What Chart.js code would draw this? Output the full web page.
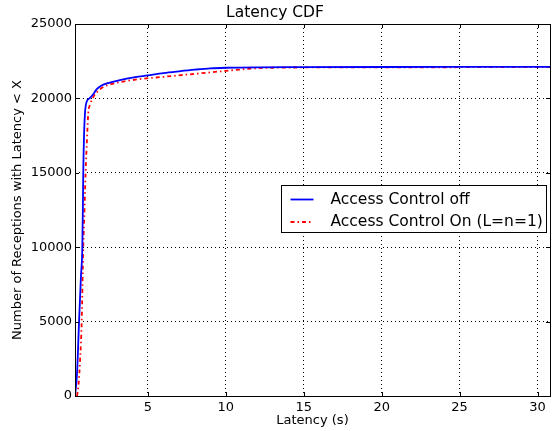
<!DOCTYPE html>
<html>
<head>
<meta charset="utf-8">
<script src="https://cdn.jsdelivr.net/npm/chart.js@4/dist/chart.umd.min.js"></script>
<style>
  body { margin: 0; background: #fff; }
</style>
</head>
<body>
<canvas id="cdfChart" width="558" height="431"></canvas>
<script>
// latency (s) / cumulative receptions
const offLatency = [0.32, 0.45, 0.58, 0.7, 0.79, 0.83, 0.85, 0.9, 0.96, 1.07, 1.25, 1.5, 1.7, 2.0, 2.5, 3.2, 4.0, 5.0, 6.0, 7.0, 8.0, 9.0, 10, 12, 15, 20, 25, 30.8];
const offCount   = [0, 1500, 5000, 8000, 10000, 13000, 15000, 17500, 19000, 19780, 20000, 20300, 20600, 20850, 21050, 21230, 21400, 21550, 21700, 21820, 21930, 22020, 22060, 22090, 22100, 22110, 22115, 22120];

const onLatency = [0.45, 0.55, 0.65, 0.75, 0.85, 0.93, 1.0, 1.1, 1.17, 1.3, 1.5, 1.8, 2.2, 2.8, 3.5, 4.5, 6, 8, 10, 11, 12, 13, 15, 20, 30.8];
const onCount   = [0, 800, 2500, 5000, 10000, 12500, 15000, 17500, 19000, 19600, 20100, 20500, 20800, 21000, 21150, 21300, 21450, 21650, 21850, 21950, 22030, 22060, 22080, 22090, 22100];

const xTicks = [5, 10, 15, 20, 25, 30];
const yTicks = [0, 5000, 10000, 15000, 20000, 25000];

const FONT = 'DejaVu Sans';

function toPoints(xs, ys) {
  return xs.map((x, i) => ({ x: x, y: ys[i] }));
}

// frame, inward ticks and the legend box, matplotlib style
const framePlugin = {
  id: 'frame',
  afterDraw(chart) {
    const { ctx, chartArea: a, scales } = chart;
    ctx.save();
    ctx.strokeStyle = '#000';
    ctx.lineWidth = 1;
    ctx.setLineDash([]);
    ctx.beginPath();
    xTicks.forEach(v => {
      const px = Math.round(scales.x.getPixelForValue(v)) + 0.5;
      ctx.moveTo(px, a.bottom); ctx.lineTo(px, a.bottom - 4);
      ctx.moveTo(px, a.top); ctx.lineTo(px, a.top + 4);
    });
    yTicks.forEach(v => {
      const py = Math.round(scales.y.getPixelForValue(v)) + 0.5;
      ctx.moveTo(a.left, py); ctx.lineTo(a.left + 4, py);
      ctx.moveTo(a.right, py); ctx.lineTo(a.right - 4, py);
    });
    ctx.stroke();
    ctx.strokeRect(Math.round(a.left) + 0.5, Math.round(a.top) + 0.5,
                   Math.round(a.right - a.left), Math.round(a.bottom - a.top));

    // legend
    const lx = 281.5, ly = 185.5, lw = 265, lh = 47;
    ctx.fillStyle = '#fff';
    ctx.fillRect(lx, ly, lw, lh);
    ctx.strokeRect(lx, ly, lw, lh);
    ctx.font = '15.5px "' + FONT + '"';
    ctx.textBaseline = 'middle';
    chart.data.datasets.forEach((ds, i) => {
      const y = ly + 14 + i * 22.5;
      ctx.strokeStyle = ds.borderColor;
      ctx.lineWidth = ds.borderWidth;
      ctx.setLineDash(ds.borderDash || []);
      ctx.beginPath();
      ctx.moveTo(lx + 9, y); ctx.lineTo(lx + 32, y);
      ctx.stroke();
      ctx.fillStyle = '#000';
      ctx.fillText(ds.label, lx + 49, y);
    });
    ctx.restore();
  }
};

new Chart(document.getElementById('cdfChart').getContext('2d'), {
  type: 'line',
  data: {
    datasets: [{
      label: 'Access Control off',
      data: toPoints(offLatency, offCount),
      borderColor: '#0000ff',
      borderWidth: 1.8,
      pointRadius: 0,
      cubicInterpolationMode: 'monotone',
      fill: false
    }, {
      label: 'Access Control On (L=n=1)',
      data: toPoints(onLatency, onCount),
      borderColor: '#ff0000',
      borderWidth: 1.8,
      borderDash: [4, 3, 1.5, 3],
      pointRadius: 0,
      cubicInterpolationMode: 'monotone',
      fill: false
    }]
  },
  options: {
    responsive: false,
    animation: false,
    layout: { padding: { left: 0, right: 8, top: 0, bottom: 0 } },
    plugins: {
      legend: { display: false },
      tooltip: { enabled: false },
      title: {
        display: true,
        text: 'Latency CDF',
        color: '#000',
        font: { family: FONT, size: 15.5, weight: 'normal' },
        padding: { top: 3.8, bottom: 1.6 }
      }
    },
    scales: {
      x: {
        type: 'linear',
        min: 0.32,
        max: 30.8,
        afterFit(scale) { scale.height = 35; },
        afterBuildTicks(scale) { scale.ticks = xTicks.map(v => ({ value: v })); },
        grid: {
          color: '#000',
          lineWidth: 1,
          drawTicks: false,
          tickLength: 0
        },
        border: { display: false, dash: [1, 3] },
        ticks: {
          color: '#000',
          padding: 4,
          maxRotation: 0,
          font: { family: FONT, size: 13 }
        },
        title: {
          display: true,
          text: 'Latency (s)',
          color: '#000',
          font: { family: FONT, size: 13 },
          padding: { top: 0, bottom: 3 }
        }
      },
      y: {
        min: 0,
        max: 25000,
        afterFit(scale) { scale.width = 75; },
        afterBuildTicks(scale) { scale.ticks = yTicks.map(v => ({ value: v })); },
        grid: {
          color: '#000',
          lineWidth: 1,
          drawTicks: false,
          tickLength: 0
        },
        border: { display: false, dash: [1, 3] },
        ticks: {
          color: '#000',
          padding: 3,
          font: { family: FONT, size: 13 },
          callback: v => String(v)
        },
        title: {
          display: true,
          text: 'Number of Receptions with Latency < X',
          color: '#000',
          font: { family: FONT, size: 13 },
          padding: { top: 10, bottom: 0 }
        }
      }
    }
  },
  plugins: [framePlugin]
});
</script>
</body>
</html>
